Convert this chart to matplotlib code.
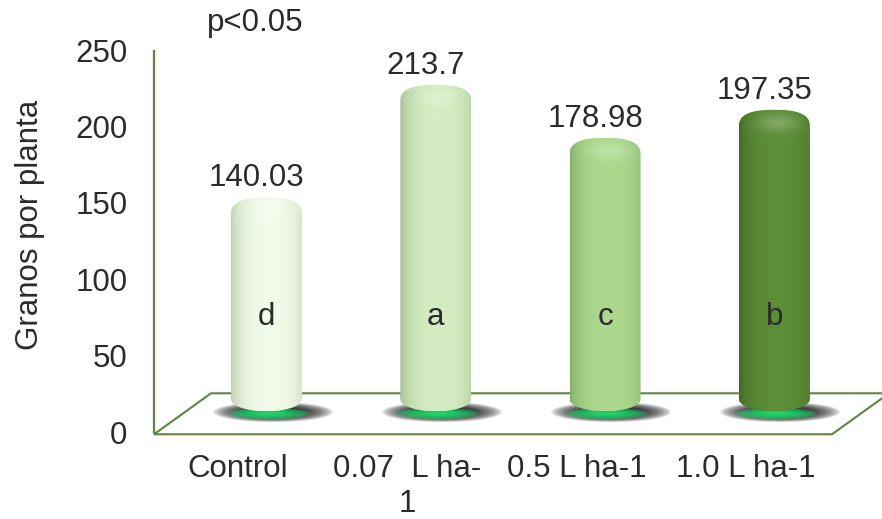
import numpy as np
import matplotlib
matplotlib.use("Agg")
import matplotlib.pyplot as plt
from matplotlib.path import Path
from matplotlib.patches import PathPatch, Polygon
from matplotlib.colors import to_rgb

# ---- data ----
categories = ["Control", "0.07  L ha-\n1", "0.5 L ha-1", "1.0 L ha-1"]
values = [140.03, 213.7, 178.98, 197.35]
letters = ["d", "a", "c", "b"]
yticks = [0, 50, 100, 150, 200, 250]
ylabel = "Granos por planta"
note = "p<0.05"

# ---- style ----
edge_colors = ["#b5c7a3", "#9bb688", "#7ca563", "#3a6320"]
mid_colors = ["#f2fbea", "#d5edc2", "#acd98e", "#5d8e38"]
frame_color = "#5f8540"
text_color = "#2b2b2b"
font = ["Liberation Sans", "DejaVu Sans"]
plt.rcParams["font.family"] = font

W, H = 882, 519
fig = plt.figure(figsize=(W / 100, H / 100), dpi=100)

# front plane geometry (pixels)
px_per_unit = 1.528
y0_px = 432
x0_px, dx_px = 238, 169.3
xlim = ((154 - x0_px) / dx_px, (W - x0_px) / dx_px)
ylim = (-6, 262)


def ypx(v):
    return y0_px - px_per_unit * v


ax = fig.add_axes([154 / W, 1 - ypx(ylim[0]) / H,
                   1 - 154 / W, (ypx(ylim[0]) - ypx(ylim[1])) / H])
ax.set_autoscale_on(False)
ax.set_xlim(*xlim)
ax.set_ylim(*ylim)
for s in ax.spines.values():
    s.set_visible(False)

# depth of the 3D floor in data units
depth_x = 57 / dx_px
depth_y = 41 / px_per_unit
bar_dx = depth_x / 2
base = 13.5
bar_w = 71 / dx_px

# floor
front_y = -1.5
fl = xlim[0]
fr = (832 - x0_px) / dx_px
floor = Polygon([(fl, front_y), (fr, front_y), (fr + depth_x, front_y + depth_y),
                 (fl + depth_x, front_y + depth_y)], closed=True,
                facecolor="white", edgecolor=frame_color, lw=1.5, zorder=1,
                clip_on=False)
ax.add_patch(floor)
ax.plot([fl, fl], [front_y, 250], color=frame_color, lw=1.6, zorder=1,
        clip_on=False, solid_capstyle="butt")

xs = np.arange(len(values))
bars = ax.bar(xs + bar_dx, values, width=bar_w, bottom=base,
              color="none", linewidth=0, zorder=3)

cap_h = 11.0
bot_h = 8.0


def capsule_path(x0, x1, y0, y1):
    xc = (x0 + x1) / 2
    a = (x1 - x0) / 2
    th = np.linspace(0, np.pi, 80)
    n = 2.6
    cx = np.sign(np.cos(th)) * np.abs(np.cos(th)) ** (2 / n)
    sy = np.abs(np.sin(th)) ** (2 / n)
    top = np.column_stack([xc + a * cx, (y1 - cap_h) + cap_h * sy])
    th2 = np.linspace(np.pi, 2 * np.pi, 80)
    bot = np.column_stack([xc + a * np.cos(th2), (y0 + bot_h) + bot_h * np.sin(th2)])
    pts = np.vstack([top, bot, top[:1]])
    codes = [Path.MOVETO] + [Path.LINETO] * (len(pts) - 2) + [Path.CLOSEPOLY]
    return Path(pts, codes)


for rect, ec, mc in zip(bars, edge_colors, mid_colors):
    x0, y0 = rect.get_x(), rect.get_y()
    w, h = rect.get_width(), rect.get_height()
    x1, y1 = x0 + w, y0 + h
    xc = x0 + w / 2

    # contact shadow and glow under the bar
    nx, ny = 180, 70
    ext = (xc - 1.0 * w, xc + 1.1 * w, y0 - 10, y0 + 9)
    gx = np.linspace(ext[0], ext[1], nx)
    gy = np.linspace(ext[2], ext[3], ny)
    GX, GY = np.meshgrid(gx, gy)
    r_dark = ((GX - (xc + 0.08 * w)) / (0.85 * w)) ** 2 + ((GY - (y0 - 0.5)) / 6.5) ** 2
    a_dark = 0.95 * np.clip(1 - r_dark, 0, 1) ** 0.7
    r_g = ((GX - (xc + 0.02 * w)) / (0.58 * w)) ** 2 + ((GY - (y0 - 1.5)) / 3.8) ** 2
    a_g = np.clip(1 - r_g, 0, 1) ** 0.5
    green = np.array(to_rgb("#1fd36a"))
    alpha = a_g + a_dark * (1 - a_g)
    rgb = (green[None, None, :] * a_g[..., None]) / np.maximum(alpha, 1e-6)[..., None]
    shadow = np.dstack([rgb, alpha])
    ax.imshow(shadow, extent=ext, origin="lower", aspect="auto",
              interpolation="bilinear", zorder=2)

    # cylinder body with horizontal shading
    nx, ny = 120, 300
    t = np.linspace(0, 1, nx)
    prof = np.clip(1 - np.abs((t - 0.55) / 0.56) ** 2.2, 0, 1) ** 0.55
    e = np.array(to_rgb(ec))
    m = np.array(to_rgb(mc))
    row = e[None, :] + (m - e)[None, :] * prof[:, None]
    img = np.repeat(row[None, :, :], ny, axis=0)
    yy = np.linspace(y0, y1, ny)
    TY, TX = np.meshgrid(yy, t, indexing="ij")
    hl = np.exp(-((TY - (y1 - 0.8 * cap_h)) / (0.5 * cap_h)) ** 2
                - ((TX - 0.55) / 0.3) ** 2) * 0.22
    img = img + (1 - img) * hl[..., None]
    clip = PathPatch(capsule_path(x0, x1, y0, y1), transform=ax.transData,
                     facecolor="none", edgecolor="none")
    ax.add_patch(clip)
    im = ax.imshow(np.clip(img, 0, 1), extent=(x0, x1, y0, y1), origin="lower",
                   aspect="auto", interpolation="bilinear", zorder=3)
    im.set_clip_path(clip)

fs = 22.5
for rect, v, lt in zip(bars, values, letters):
    xc = rect.get_x() + rect.get_width() / 2
    top = rect.get_y() + rect.get_height()
    ax.annotate(f"{v}", xy=(xc - 10 / dx_px, top), xytext=(0, 3),
                textcoords="offset points", ha="center", va="bottom",
                fontsize=fs, color=text_color, zorder=5, annotation_clip=False)
    ax.text(xc, 75, lt, ha="center", va="center", fontsize=fs,
            color=text_color, zorder=5)

ax.set_yticks(yticks)
ax.set_yticklabels([str(v) for v in yticks])
ax.set_xticks(xs)
ax.set_xticklabels(categories, linespacing=1.25)
ax.tick_params(axis="y", length=0, pad=19, labelsize=fs, labelcolor=text_color)
ax.tick_params(axis="x", length=0, pad=9, labelsize=fs, labelcolor=text_color)

fig.text(30 / W, 1 - 225 / H, ylabel, rotation=90, ha="center", va="center",
         fontsize=fs, color=text_color)
fig.text(255 / W, 1 - 23 / H, note, ha="center", va="center",
         fontsize=fs, color=text_color)

fig.savefig("out.png", dpi=100)
